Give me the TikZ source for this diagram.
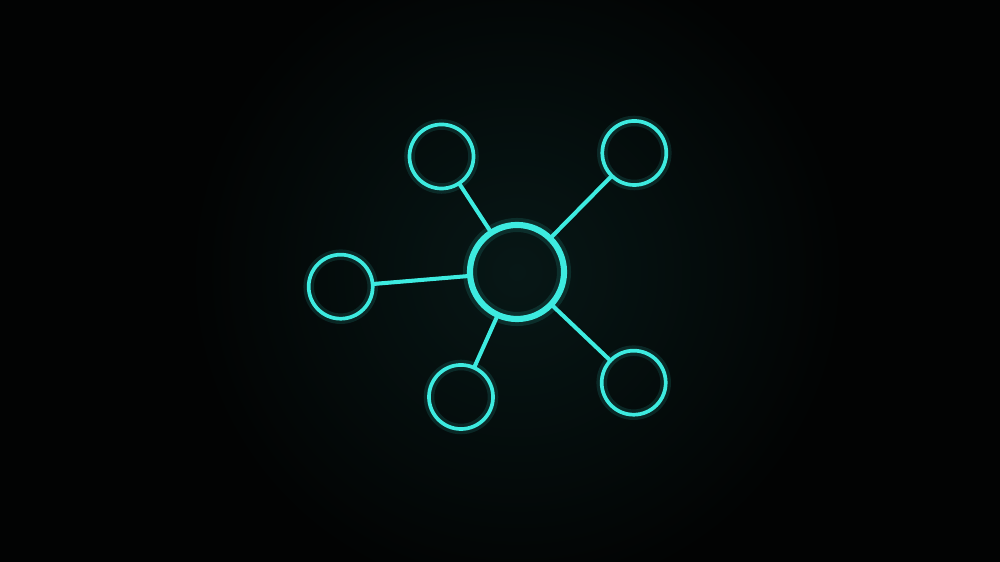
\documentclass[tikz,border=0pt]{standalone}
\usetikzlibrary{shadings}
\definecolor{bgedge}{HTML}{020303}
\definecolor{bgcenter}{HTML}{071716}
\definecolor{neon}{HTML}{3DEBE0}
\begin{document}
\begin{tikzpicture}[x=0.01cm,y=-0.01cm,
  hub/.style={circle,draw=neon,line width=1.75pt,minimum size=0.94cm,inner sep=0pt,outer sep=0pt},
  leaf/.style={circle,draw=neon,line width=1.05pt,minimum size=0.64cm,inner sep=0pt,outer sep=0pt},
  link/.style={draw=neon,line width=1.15pt},
  glow/.style={draw=neon,opacity=0.12,line width=4pt}]
\useasboundingbox (0,0) rectangle (1000,562);
\fill[bgedge] (0,0) rectangle (1000,562);
\shade[inner color=bgcenter,outer color=bgedge] (517,272) circle (330);
% glow halos
\draw[glow] (517,272) circle (47);
\foreach \p in {(441.5,156.5),(634.3,153),(340.7,286.7),(461,397),(633.7,382.7)}
  \draw[glow,line width=3pt] \p circle (32);
% nodes
\node[hub] (c) at (517,272) {};
\node[leaf] (tl) at (441.5,156.5) {};
\node[leaf] (tr) at (634.3,153) {};
\node[leaf] (l) at (340.7,286.7) {};
\node[leaf] (bl) at (461,397) {};
\node[leaf] (br) at (633.7,382.7) {};
% links
\path[link] (c) -- (tl);
\path[link] (c) -- (tr);
\path[link] (c) -- (l);
\path[link] (c) -- (bl);
\path[link] (c) -- (br);
\end{tikzpicture}
\end{document}
